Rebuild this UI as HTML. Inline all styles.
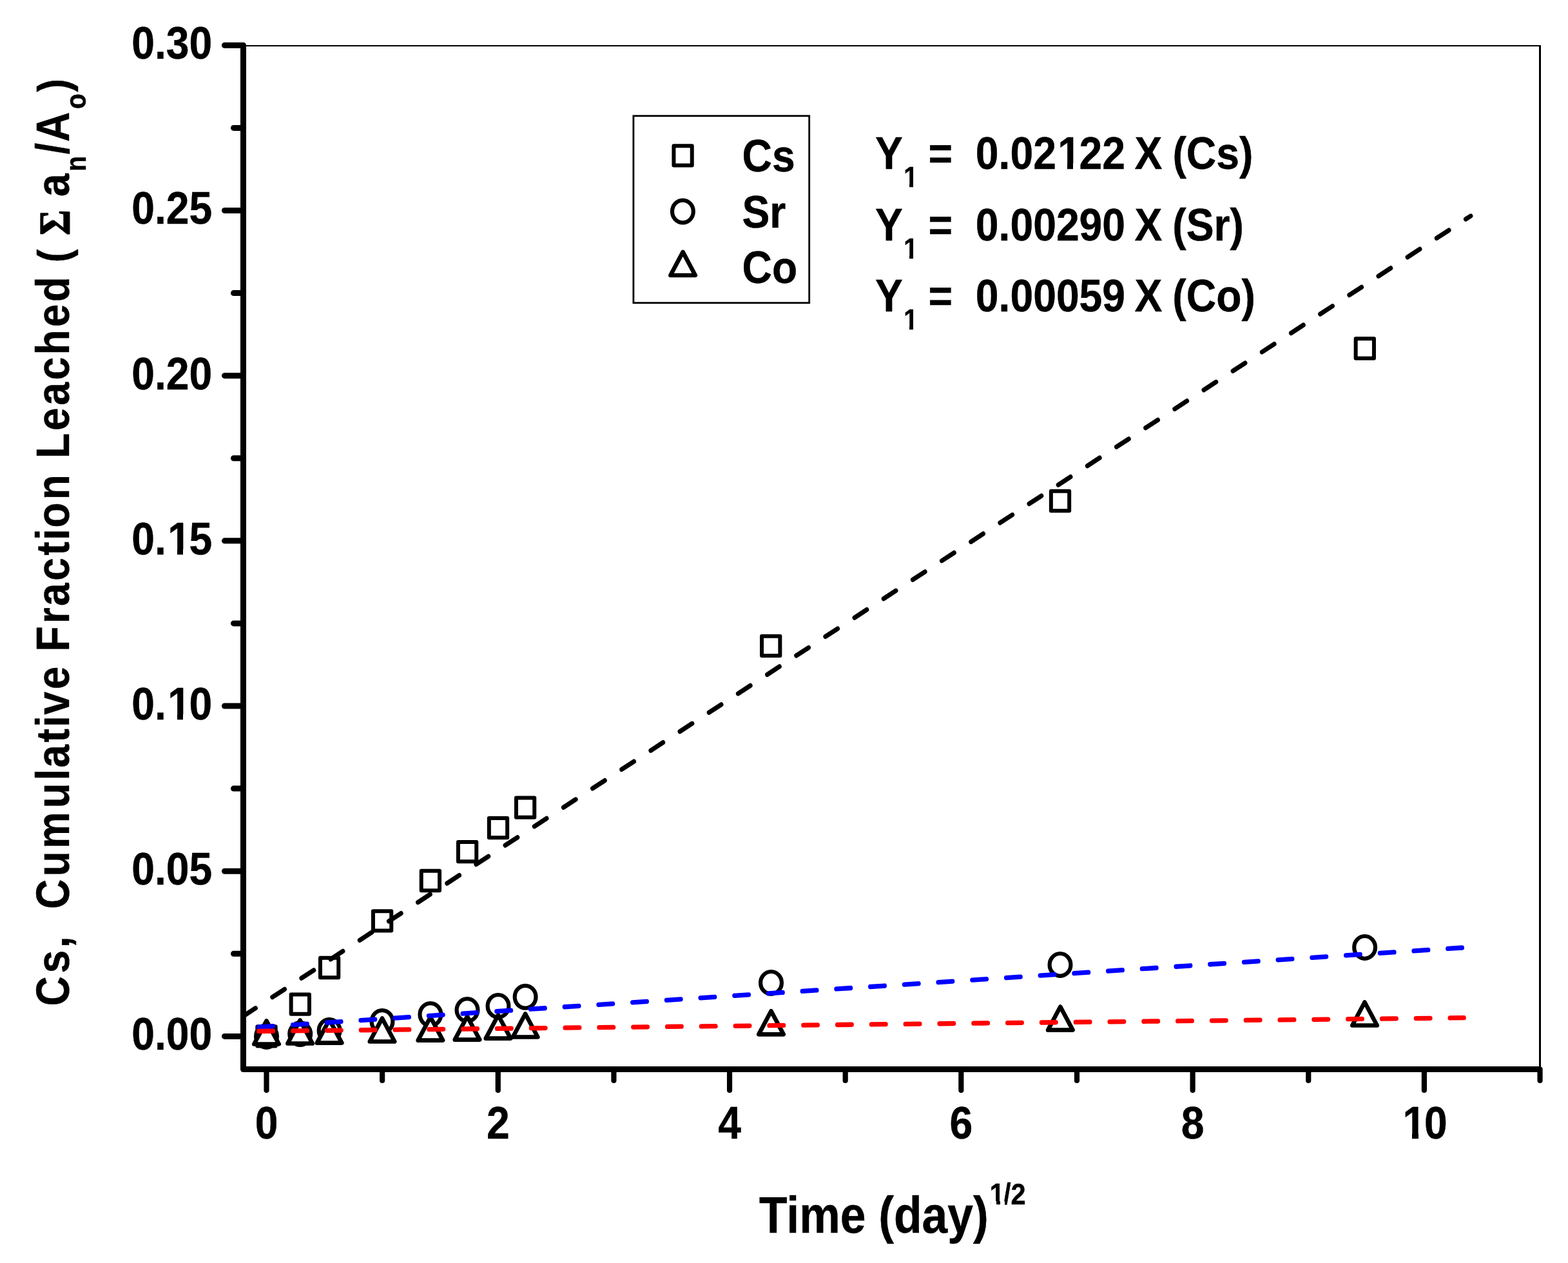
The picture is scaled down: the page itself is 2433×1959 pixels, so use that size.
<!DOCTYPE html>
<html lang="en"><head><meta charset="utf-8"><title>Cumulative Fraction Leached vs Time</title>
<style>html,body{margin:0;padding:0;background:#fff;overflow:hidden}svg{display:block}text{font-family:"Liberation Sans",sans-serif;font-weight:bold;fill:#000;stroke:#000;stroke-width:0.45px;stroke-linejoin:round}</style></head><body>
<svg width="2433" height="1959" viewBox="0 0 2433 1959">
<rect x="0" y="0" width="2433" height="1959" fill="#fff"/>
<g fill="none" stroke="#000" stroke-linejoin="round" stroke-width="6.0">
<rect x="399.35" y="1592.25" width="28.3" height="30.3"/>
<rect x="451.65" y="1542.45" width="28.3" height="30.3"/>
<rect x="496.95" y="1485.85" width="28.3" height="30.3"/>
<rect x="578.95" y="1413.25" width="28.3" height="30.3"/>
<rect x="653.75" y="1350.85" width="28.3" height="30.3"/>
<rect x="710.95" y="1305.95" width="28.3" height="30.3"/>
<rect x="758.85" y="1268.95" width="28.3" height="30.3"/>
<rect x="800.95" y="1237.45" width="28.3" height="30.3"/>
<rect x="1182.05" y="986.75" width="28.3" height="30.3"/>
<rect x="1630.85" y="761.85" width="28.3" height="30.3"/>
<rect x="2103.65" y="525.35" width="28.3" height="30.3"/>
</g>
<g fill="none" stroke="#000" stroke-width="6.2">
<ellipse cx="413.50" cy="1607.40" rx="16.4" ry="17.4"/>
<ellipse cx="465.70" cy="1603.60" rx="16.4" ry="17.4"/>
<ellipse cx="511.10" cy="1598.50" rx="16.4" ry="17.4"/>
<ellipse cx="593.00" cy="1584.50" rx="16.4" ry="17.4"/>
<ellipse cx="667.90" cy="1573.50" rx="16.4" ry="17.4"/>
<ellipse cx="725.00" cy="1566.60" rx="16.4" ry="17.4"/>
<ellipse cx="773.00" cy="1560.40" rx="16.4" ry="17.4"/>
<ellipse cx="815.10" cy="1546.30" rx="16.4" ry="17.4"/>
<ellipse cx="1196.50" cy="1524.40" rx="16.4" ry="17.4"/>
<ellipse cx="1645.00" cy="1496.40" rx="16.4" ry="17.4"/>
<ellipse cx="2117.60" cy="1469.40" rx="16.4" ry="17.4"/>
</g>
<g fill="#fff" stroke="#000" stroke-linejoin="round" stroke-width="6.6">
<path d="M413.50 1583.35L432.75 1619.45L394.25 1619.45Z"/>
<path d="M465.60 1582.45L484.85 1618.55L446.35 1618.55Z"/>
<path d="M511.10 1581.55L530.35 1617.65L491.85 1617.65Z"/>
<path d="M593.00 1579.45L612.25 1615.55L573.75 1615.55Z"/>
<path d="M667.90 1577.55L687.15 1613.65L648.65 1613.65Z"/>
<path d="M725.00 1576.55L744.25 1612.65L705.75 1612.65Z"/>
<path d="M773.00 1574.55L792.25 1610.65L753.75 1610.65Z"/>
<path d="M815.10 1572.45L834.35 1608.55L795.85 1608.55Z"/>
<path d="M1196.50 1568.25L1215.75 1604.35L1177.25 1604.35Z"/>
<path d="M1645.30 1561.55L1664.55 1597.65L1626.05 1597.65Z"/>
<path d="M2117.50 1554.45L2136.75 1590.55L2098.25 1590.55Z"/>
</g>
<g transform="scale(0.93,1)" fill="none" stroke-width="7.3" stroke-linecap="round" stroke-dasharray="23.9 32.885">
<line x1="405.91" y1="1576.10" x2="2453.76" y2="335.00" stroke="#000"/>
<line x1="431.83" y1="1593.00" x2="2439.35" y2="1470.00" stroke="#0000ff"/>
<line x1="431.83" y1="1599.50" x2="2442.47" y2="1578.70" stroke="#ff0000"/>
</g>
<g stroke="#000" fill="none">
<line x1="382.0" y1="71.0" x2="2391.0" y2="71.0" stroke-width="2.0"/>
<line x1="2389.5" y1="70.0" x2="2389.5" y2="1658.5" stroke-width="3.0"/>
<path d="M377.5 70.3L377.5 1658.5L2389.5 1658.5" stroke-width="9.0" stroke-linejoin="round"/>
<g stroke-width="9.0" stroke-linecap="round">
<line x1="348.5" y1="1607.38" x2="377.5" y2="1607.38"/>
<line x1="362.5" y1="1479.29" x2="377.5" y2="1479.29"/>
<line x1="348.5" y1="1351.20" x2="377.5" y2="1351.20"/>
<line x1="362.5" y1="1223.11" x2="377.5" y2="1223.11"/>
<line x1="348.5" y1="1095.02" x2="377.5" y2="1095.02"/>
<line x1="362.5" y1="966.93" x2="377.5" y2="966.93"/>
<line x1="348.5" y1="838.84" x2="377.5" y2="838.84"/>
<line x1="362.5" y1="710.75" x2="377.5" y2="710.75"/>
<line x1="348.5" y1="582.66" x2="377.5" y2="582.66"/>
<line x1="362.5" y1="454.57" x2="377.5" y2="454.57"/>
<line x1="348.5" y1="326.48" x2="377.5" y2="326.48"/>
<line x1="362.5" y1="198.39" x2="377.5" y2="198.39"/>
<line x1="348.5" y1="70.30" x2="377.5" y2="70.30"/>
<line x1="413.50" y1="1658.5" x2="413.50" y2="1691.1" stroke-width="8.2"/>
<line x1="593.14" y1="1658.5" x2="593.14" y2="1675.9" stroke-width="8.2"/>
<line x1="772.78" y1="1658.5" x2="772.78" y2="1691.1" stroke-width="8.2"/>
<line x1="952.42" y1="1658.5" x2="952.42" y2="1675.9" stroke-width="8.2"/>
<line x1="1132.06" y1="1658.5" x2="1132.06" y2="1691.1" stroke-width="8.2"/>
<line x1="1311.70" y1="1658.5" x2="1311.70" y2="1675.9" stroke-width="8.2"/>
<line x1="1491.34" y1="1658.5" x2="1491.34" y2="1691.1" stroke-width="8.2"/>
<line x1="1670.98" y1="1658.5" x2="1670.98" y2="1675.9" stroke-width="8.2"/>
<line x1="1850.62" y1="1658.5" x2="1850.62" y2="1691.1" stroke-width="8.2"/>
<line x1="2030.26" y1="1658.5" x2="2030.26" y2="1675.9" stroke-width="8.2"/>
<line x1="2209.90" y1="1658.5" x2="2209.90" y2="1691.1" stroke-width="8.2"/>
<line x1="2389.54" y1="1658.5" x2="2389.54" y2="1675.9" stroke-width="8.2"/>
</g></g>
<g transform="translate(329.3,1628.38) scale(0.905,1)"><text x="-138.19" y="0" font-size="71.0" xml:space="preserve">0.00</text></g>
<g transform="translate(329.3,1372.2) scale(0.905,1)"><text x="-138.19" y="0" font-size="71.0" xml:space="preserve">0.05</text></g>
<g transform="translate(329.3,1116.02) scale(0.905,1)"><text x="-138.19" y="0" font-size="71.0" xml:space="preserve">0.<tspan dx="2.70">1</tspan><tspan dx="-2.70">0</tspan></text><rect x="-73.80" y="-8.14" width="13.75" height="10.24" fill="#fff" shape-rendering="crispEdges"/><rect x="-49.61" y="-8.14" width="11.93" height="10.24" fill="#fff" shape-rendering="crispEdges"/></g>
<g transform="translate(329.3,859.84) scale(0.905,1)"><text x="-138.19" y="0" font-size="71.0" xml:space="preserve">0.<tspan dx="2.70">1</tspan><tspan dx="-2.70">5</tspan></text><rect x="-73.80" y="-8.14" width="13.75" height="10.24" fill="#fff" shape-rendering="crispEdges"/><rect x="-49.61" y="-8.14" width="11.93" height="10.24" fill="#fff" shape-rendering="crispEdges"/></g>
<g transform="translate(329.3,603.66) scale(0.905,1)"><text x="-138.19" y="0" font-size="71.0" xml:space="preserve">0.20</text></g>
<g transform="translate(329.3,347.48) scale(0.905,1)"><text x="-138.19" y="0" font-size="71.0" xml:space="preserve">0.25</text></g>
<g transform="translate(329.3,91.3) scale(0.905,1)"><text x="-138.19" y="0" font-size="71.0" xml:space="preserve">0.30</text></g>
<g transform="translate(413.5,1765.8) scale(0.905,1)"><text x="-19.74" y="0" font-size="71.0" xml:space="preserve">0</text></g>
<g transform="translate(772.78,1765.8) scale(0.905,1)"><text x="-19.74" y="0" font-size="71.0" xml:space="preserve">2</text></g>
<g transform="translate(1132.06,1765.8) scale(0.905,1)"><text x="-19.74" y="0" font-size="71.0" xml:space="preserve">4</text></g>
<g transform="translate(1491.34,1765.8) scale(0.905,1)"><text x="-19.74" y="0" font-size="71.0" xml:space="preserve">6</text></g>
<g transform="translate(1850.62,1765.8) scale(0.905,1)"><text x="-19.74" y="0" font-size="71.0" xml:space="preserve">8</text></g>
<g transform="translate(2209.9,1765.8) scale(0.905,1)"><text x="-39.49" y="0" font-size="71.0" xml:space="preserve"><tspan dx="2.70">1</tspan><tspan dx="-2.70">0</tspan></text><rect x="-34.32" y="-8.14" width="13.75" height="10.24" fill="#fff" shape-rendering="crispEdges"/><rect x="-10.13" y="-8.14" width="11.93" height="10.24" fill="#fff" shape-rendering="crispEdges"/></g>
<rect x="982.9" y="179.8" width="272.8" height="290.0" fill="none" stroke="#000" stroke-width="2.8"/>
<g fill="none" stroke="#000" stroke-linejoin="round">
<g stroke-width="6.0"><rect x="1045.45" y="226.15" width="28.3" height="30.3"/></g>
<g stroke-width="6.2"><ellipse cx="1059.40" cy="328.00" rx="16.4" ry="17.4"/></g>
<g stroke-width="6.6"><path d="M1059.60 390.85L1078.85 426.95L1040.35 426.95Z"/></g>
</g>
<g font-size="71.0">
<text transform="translate(1151.5,265.8) scale(0.905,1)">Cs</text>
<text transform="translate(1151.5,353.3) scale(0.905,1)">Sr</text>
<text transform="translate(1151.5,439.1) scale(0.905,1)">Co</text>
</g>
<g transform="translate(1358.0,261.6) scale(0.905,1)"><text x="0" y="0" font-size="71.0" xml:space="preserve" style="white-space:pre">Y<tspan font-size="43.5" dx="1.65" dy="28.2">1</tspan><tspan dx="-1.65" dy="-28.2"> =  </tspan>0.02<tspan dx="2.70">1</tspan><tspan dx="-2.70">2</tspan>2<tspan dx="-3.70"> X</tspan><tspan dx="-2.11"> (Cs)</tspan></text><rect x="49.75" y="22.86" width="9.06" height="7.44" fill="#fff" shape-rendering="crispEdges"/><rect x="65.48" y="22.86" width="7.60" height="7.44" fill="#fff" shape-rendering="crispEdges"/><rect x="315.55" y="-8.14" width="13.75" height="10.24" fill="#fff" shape-rendering="crispEdges"/><rect x="339.74" y="-8.14" width="11.93" height="10.24" fill="#fff" shape-rendering="crispEdges"/></g>
<g transform="translate(1358.0,372.9) scale(0.905,1)"><text x="0" y="0" font-size="71.0" xml:space="preserve" style="white-space:pre">Y<tspan font-size="43.5" dx="1.65" dy="28.2">1</tspan><tspan dx="-1.65" dy="-28.2"> =  </tspan>0.00290<tspan dx="-3.70"> X</tspan><tspan dx="-2.11"> (Sr)</tspan></text><rect x="49.75" y="22.86" width="9.06" height="7.44" fill="#fff" shape-rendering="crispEdges"/><rect x="65.48" y="22.86" width="7.60" height="7.44" fill="#fff" shape-rendering="crispEdges"/></g>
<g transform="translate(1358.0,482.8) scale(0.905,1)"><text x="0" y="0" font-size="71.0" xml:space="preserve" style="white-space:pre">Y<tspan font-size="43.5" dx="1.65" dy="28.2">1</tspan><tspan dx="-1.65" dy="-28.2"> =  </tspan>0.00059<tspan dx="-3.70"> X</tspan><tspan dx="-2.11"> (Co)</tspan></text><rect x="49.75" y="22.86" width="9.06" height="7.44" fill="#fff" shape-rendering="crispEdges"/><rect x="65.48" y="22.86" width="7.60" height="7.44" fill="#fff" shape-rendering="crispEdges"/></g>
<g transform="translate(1178.0,1911.6) scale(0.904,1)"><text x="0" y="0" font-size="79.0" xml:space="preserve">Time (day)<tspan font-size="46.0" dx="1.75" dy="-43.5">1</tspan><tspan font-size="46.0" dx="-1.75">/2</tspan></text><rect x="397.72" y="-49.09" width="9.49" height="7.69" fill="#fff" shape-rendering="crispEdges"/><rect x="414.22" y="-49.09" width="6.70" height="7.69" fill="#fff" shape-rendering="crispEdges"/></g>
<text transform="translate(107.1,1560.4) rotate(-90) scale(0.895,1)" font-size="71.5" y="0" xml:space="preserve" style="white-space:pre"><tspan x="0.00 56.89 100.69 122.58 144.46">Cs,  </tspan><tspan x="167.93 224.82 272.94 342.98 391.09 412.98 456.79 483.02 504.90 548.71 592.52">Cumulative </tspan><tspan x="614.53 662.64 693.30 737.10 780.91 807.14 829.03 877.15 925.26">Fraction </tspan><tspan x="948.94 997.05 1040.86 1084.67 1128.48 1176.60 1220.41 1268.52">Leached </tspan><tspan x="1288.49 1314.72" font-size="69.0">( </tspan><tspan x="1335.75 1382.68" font-size="67.5" style="font-family:'Liberation Serif',serif;stroke-width:1.3px">Σ </tspan><tspan x="1402.68">a</tspan><tspan x="1446.49" dy="26.0" font-size="43.6">n</tspan><tspan x="1475.84" dy="-26.0">/</tspan><tspan x="1497.73">A</tspan><tspan x="1554.61" dy="26.0" font-size="43.6">o</tspan><tspan x="1583.96" dy="-26.0" font-size="69.0">)</tspan></text>
</svg></body></html>
